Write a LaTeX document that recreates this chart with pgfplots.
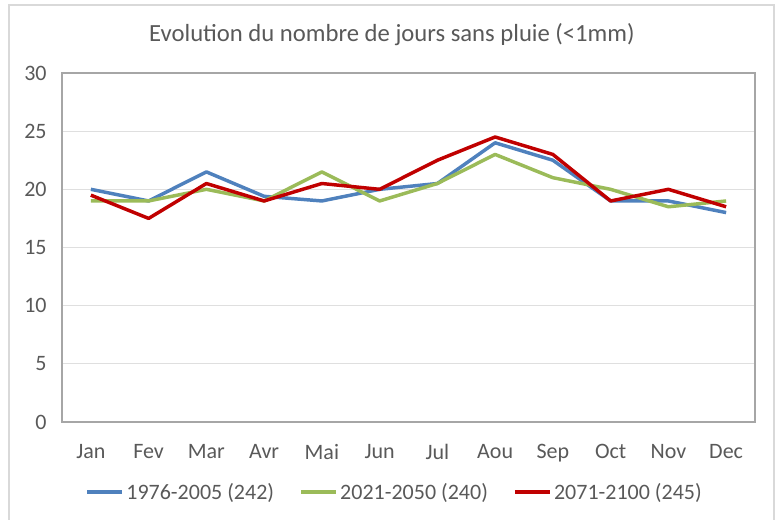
\documentclass[border=0pt]{standalone}
\usepackage{fontspec}
\setmainfont{Carlito}
\usepackage{pgfplots}
\pgfplotsset{compat=1.18}
\definecolor{txt}{HTML}{595959}
\definecolor{sblue}{HTML}{4F81BD}
\definecolor{sgreen}{HTML}{9BBB59}
\definecolor{sred}{HTML}{C00000}
\definecolor{frame}{HTML}{D9D9D9}
\begin{document}
\begin{tikzpicture}
\useasboundingbox (0,0) rectangle (585pt,390pt);
\draw[frame, line width=1.2pt] (6.75pt,-10pt) rectangle (580.5pt,386.25pt);
\node[txt, font=\fontsize{18.5}{22}\selectfont] at (294pt,363.75pt) {Evolution du nombre de jours sans pluie (<1mm)};
\begin{axis}[
  at={(46.5pt,73.5pt)}, anchor=south west,
  scale only axis, width=519.75pt, height=261.75pt,
  xmin=-0.5, xmax=11.5, ymin=0, ymax=30,
  xtick={0,...,11},
  xticklabels={Jan,Fev,Mar,Avr,Mai,Jun,Jul,Aou,Sep,Oct,Nov,Dec},
  ytick={0,5,...,30},
  major tick length=0pt,
  axis line style={draw=gray!70, line width=0.8pt},
  ymajorgrids, grid style={draw=gray!25, line width=0.8pt},
  tick label style={font=\fontsize{16.5}{19}\selectfont, color=txt},
  /pgf/number format/assume math mode=true,
  yticklabel style={xshift=-8pt},
  xticklabel style={yshift=-13.5pt},
  legend columns=3,
  legend style={at={(0.4805,-0.2006)}, anchor=center, draw=none, fill=none,
    font=\fontsize{16.5}{19}\selectfont, text=txt,
    /tikz/every even column/.append style={column sep=17pt},
    inner sep=0pt, row sep=0pt},
  legend image code/.code={\draw[#1] (0pt,0pt) -- (26pt,0pt);},
  every axis plot/.append style={line width=2.6pt, line join=round, mark=none},
]
\addplot[sblue] coordinates {(0,20) (1,19) (2,21.5) (3,19.4) (4,19) (5,20) (6,20.5) (7,24) (8,22.5) (9,19) (10,19) (11,18)};
\addlegendentry{1976-2005 (242)}
\addplot[sgreen] coordinates {(0,19) (1,19) (2,20) (3,19) (4,21.5) (5,19) (6,20.5) (7,23) (8,21) (9,20) (10,18.5) (11,19)};
\addlegendentry{2021-2050 (240)}
\addplot[sred] coordinates {(0,19.5) (1,17.5) (2,20.5) (3,19) (4,20.5) (5,20) (6,22.5) (7,24.5) (8,23) (9,19) (10,20) (11,18.5)};
\addlegendentry{2071-2100 (245)}
\end{axis}
\end{tikzpicture}
\end{document}
